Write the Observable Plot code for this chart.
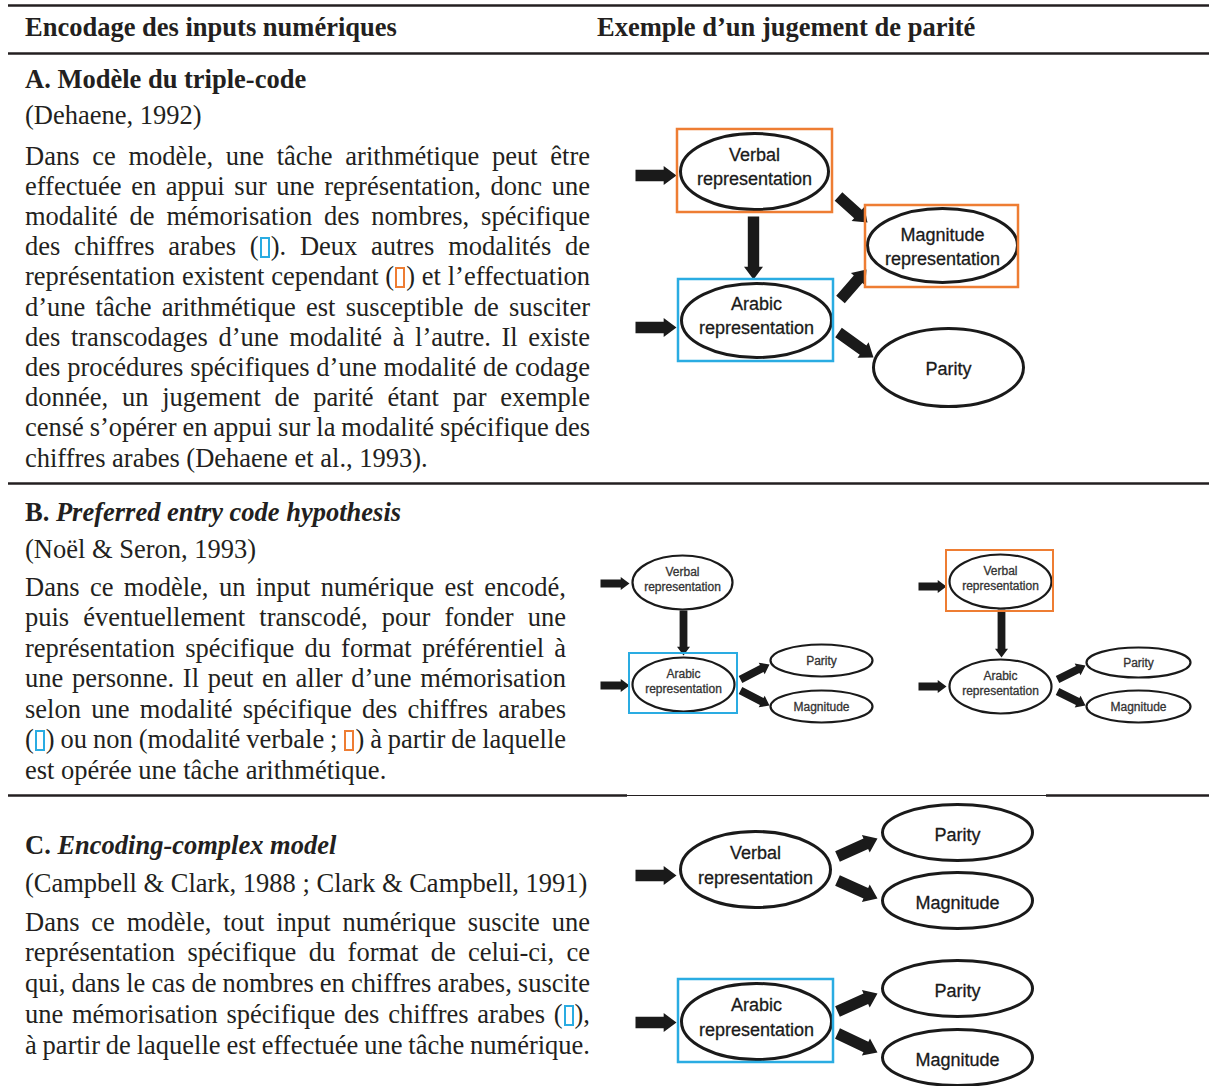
<!DOCTYPE html>
<html><head><meta charset="utf-8">
<script src="https://cdn.jsdelivr.net/npm/d3@7"></script>
<script src="https://cdn.jsdelivr.net/npm/@observablehq/plot@0.6"></script>
<style>
html,body{margin:0;padding:0;background:#fff;}
#page{position:relative;width:1209px;height:1086px;overflow:hidden;font-family:"Liberation Serif","Times New Roman",serif;color:#231f20;font-size:26.5px;}
#page svg{position:absolute;left:0;top:0;}
.ln{position:absolute;white-space:nowrap;line-height:30.5px;}
.sq{display:inline-block;width:6px;height:17px;border:2px solid;box-sizing:content-box;vertical-align:-3px;margin:0 1px;}
.sq.B{border-color:#2aace2;}
.sq.O{border-color:#ee7d33;}
</style>
</head><body>
<div id="page"></div>
<script>
// ---------- text content ----------
const headerLabels = ["Encodage des inputs numériques", "Exemple d’un jugement de parité"];
const sectionLetters = ["A.", "B.", "C."];
const sectionNames = ["Modèle du triple-code", "Preferred entry code hypothesis", "Encoding-complex model"];
const sectionItalic = [false, true, true];
const citations = ["(Dehaene, 1992)", "(Noël & Seron, 1993)", "(Campbell & Clark, 1988 ; Clark & Campbell, 1991)"];
const bodyA = [
  "Dans ce modèle, une tâche arithmétique peut être",
  "effectuée en appui sur une représentation, donc une",
  "modalité de mémorisation des nombres, spécifique",
  "des chiffres arabes ([B]). Deux autres modalités de",
  "représentation existent cependant ([O]) et l’effectuation",
  "d’une tâche arithmétique est susceptible de susciter",
  "des transcodages d’une modalité à l’autre. Il existe",
  "des procédures spécifiques d’une modalité de codage",
  "donnée, un jugement de parité étant par exemple",
  "censé s’opérer en appui sur la modalité spécifique des",
  "chiffres arabes (Dehaene et al., 1993)."
];
const bodyB = [
  "Dans ce modèle, un input numérique est encodé,",
  "puis éventuellement transcodé, pour fonder une",
  "représentation spécifique du format préférentiel à",
  "une personne. Il peut en aller d’une mémorisation",
  "selon une modalité spécifique des chiffres arabes",
  "([B]) ou non (modalité verbale ; [O]) à partir de laquelle",
  "est opérée une tâche arithmétique."
];
const bodyC = [
  "Dans ce modèle, tout input numérique suscite une",
  "représentation spécifique du format de celui-ci, ce",
  "qui, dans le cas de nombres en chiffres arabes, suscite",
  "une mémorisation spécifique des chiffres arabes ([B]),",
  "à partir de laquelle est effectuée une tâche numérique."
];

// ---------- diagram content (node centres / radii in page pixels) ----------
const nodesA = [
  {label: "Verbal\nrepresentation", entry: true, x: 754, y: 171, rx: 74, ry: 38},
  {label: "Magnitude\nrepresentation", entry: false, x: 942, y: 245, rx: 75, ry: 37},
  {label: "Arabic\nrepresentation", entry: true, x: 756, y: 320, rx: 75, ry: 37},
  {label: "Parity", entry: false, x: 948, y: 367, rx: 75, ry: 39}
];
const nodesB = [
  {label: "Verbal\nrepresentation", entry: true, x: 682, y: 582, rx: 50, ry: 27},
  {label: "Arabic\nrepresentation", entry: true, x: 683, y: 684, rx: 51, ry: 27},
  {label: "Parity", entry: false, x: 821, y: 660, rx: 51, ry: 16},
  {label: "Magnitude", entry: false, x: 821, y: 706, rx: 51, ry: 16},
  {label: "Verbal\nrepresentation", entry: true, x: 1000, y: 581, rx: 51, ry: 27},
  {label: "Arabic\nrepresentation", entry: true, x: 1000, y: 686, rx: 51, ry: 27},
  {label: "Parity", entry: false, x: 1138, y: 662, rx: 52, ry: 15},
  {label: "Magnitude", entry: false, x: 1138, y: 706, rx: 52, ry: 16}
];
const nodesC = [
  {label: "Verbal\nrepresentation", entry: true, x: 755, y: 869, rx: 75, ry: 38},
  {label: "Parity", entry: false, x: 957, y: 832, rx: 75, ry: 28},
  {label: "Magnitude", entry: false, x: 957, y: 900, rx: 75, ry: 28},
  {label: "Arabic\nrepresentation", entry: true, x: 756, y: 1021, rx: 75, ry: 38},
  {label: "Parity", entry: false, x: 957, y: 988, rx: 75, ry: 28},
  {label: "Magnitude", entry: false, x: 957, y: 1057, rx: 75, ry: 28}
];
// arrows: tail (x1,y1) -> tip (x2,y2)
const arrowsA = [
  {x1: 635, y1: 175, x2: 676, y2: 175},
  {x1: 635, y1: 327, x2: 676, y2: 327},
  {x1: 753, y1: 216, x2: 753, y2: 279},
  {x1: 838, y1: 196, x2: 867, y2: 222},
  {x1: 840, y1: 299, x2: 866, y2: 269},
  {x1: 838, y1: 332, x2: 873, y2: 357}
];
const arrowsB = [
  {x1: 600, y1: 583, x2: 629, y2: 583},
  {x1: 600, y1: 685, x2: 629, y2: 685},
  {x1: 683, y1: 610, x2: 683, y2: 655},
  {x1: 740, y1: 679, x2: 769, y2: 664},
  {x1: 740, y1: 690, x2: 769, y2: 705},
  {x1: 918, y1: 586, x2: 946, y2: 586},
  {x1: 918, y1: 686, x2: 946, y2: 686},
  {x1: 1001, y1: 609, x2: 1001, y2: 657},
  {x1: 1057, y1: 679, x2: 1085, y2: 665},
  {x1: 1057, y1: 691, x2: 1085, y2: 705}
];
const arrowsC = [
  {x1: 635, y1: 875, x2: 676, y2: 875},
  {x1: 837, y1: 856, x2: 877, y2: 838},
  {x1: 837, y1: 880, x2: 877, y2: 898},
  {x1: 635, y1: 1022, x2: 676, y2: 1022},
  {x1: 837, y1: 1011, x2: 877, y2: 993},
  {x1: 837, y1: 1033, x2: 877, y2: 1052}
];
// highlight boxes: kind = "arabe" (blue) or "autre" (orange)
const boxesBig = [
  {kind: "autre", x1: 677, y1: 129, x2: 832, y2: 212},
  {kind: "autre", x1: 865, y1: 205, x2: 1018, y2: 287},
  {kind: "arabe", x1: 678, y1: 279, x2: 833, y2: 361},
  {kind: "arabe", x1: 678, y1: 979, x2: 833, y2: 1062}
];
const boxesSmall = [
  {kind: "arabe", x1: 629, y1: 653, x2: 737, y2: 713},
  {kind: "autre", x1: 946, y1: 550, x2: 1053, y2: 611}
];
// table rules
const thickRules = [
  {y: 5, x1: 8, x2: 1209},
  {y: 53, x1: 8, x2: 1209},
  {y: 483, x1: 8, x2: 1209},
  {y: 795, x1: 8, x2: 627},
  {y: 795, x1: 1046, x2: 1209}
];
const thinRules = [{y: 795, x1: 627, x2: 1046}];

// ---------- drawing ----------
const W = 1209, H = 1086;
const INK = "#1a1a1a";
const BLUE = "#2aace2", ORANGE = "#ee7d33";
const SANS = "Liberation Sans, Arial, Helvetica, sans-serif";

const ellipseSymbol = k => ({
  draw(ctx, size) {
    const rx = Math.sqrt(size / Math.PI), ry = rx * k, c = 0.5523;
    ctx.moveTo(rx, 0);
    ctx.bezierCurveTo(rx, ry * c, rx * c, ry, 0, ry);
    ctx.bezierCurveTo(-rx * c, ry, -rx, ry * c, -rx, 0);
    ctx.bezierCurveTo(-rx, -ry * c, -rx * c, -ry, 0, -ry);
    ctx.bezierCurveTo(rx * c, -ry, rx, -ry * c, rx, 0);
    ctx.closePath();
  }
});
const blockArrow = {
  draw(ctx, l, r) {
    const w = r * 0.6, hl = Math.min(r * 1.35, l * 0.55);
    ctx.moveTo(-w, 0);
    ctx.lineTo(-w, -(l - hl));
    ctx.lineTo(-r, -(l - hl));
    ctx.lineTo(0, -l);
    ctx.lineTo(r, -(l - hl));
    ctx.lineTo(w, -(l - hl));
    ctx.lineTo(w, 0);
    ctx.closePath();
  }
};

const arrowMarks = (arrows, size) => arrows.map(a => Plot.vector([a], {
  x: "x1", y: "y1",
  length: Math.hypot(a.x2 - a.x1, a.y2 - a.y1),
  rotate: Math.atan2(a.x2 - a.x1, -(a.y2 - a.y1)) * 180 / Math.PI,
  anchor: "start", shape: blockArrow, r: size,
  fill: INK, stroke: "none"
}));
const ellipseMarks = (nodes, sw) => nodes.map(n => Plot.dot([n], {
  x: "x", y: "y", r: n.rx, symbol: ellipseSymbol(n.ry / n.rx),
  fill: "white", stroke: INK, strokeWidth: sw
}));
const labelMarks = (nodes, fs, lh, dyEntry, fill) => [
  Plot.text(nodes, {filter: d => d.entry, x: "x", y: "y", text: "label", dy: dyEntry,
    fontSize: fs, lineHeight: lh, fontFamily: SANS, fill, stroke: fill, strokeWidth: 0.3}),
  Plot.text(nodes, {filter: d => !d.entry, x: "x", y: "y", text: "label",
    fontSize: fs, lineHeight: lh, fontFamily: SANS, fill, stroke: fill, strokeWidth: 0.3})
];

const chart = Plot.plot({
  width: W, height: H, margin: 0,
  x: {domain: [0, W], range: [0, W], axis: null},
  y: {domain: [0, H], range: [0, H], axis: null},
  color: {domain: ["arabe", "autre"], range: [BLUE, ORANGE]},
  style: {background: "transparent", overflow: "visible"},
  marks: [
    Plot.ruleY(thickRules, {y: "y", x1: "x1", x2: "x2", stroke: "#231f20", strokeWidth: 2.5}),
    Plot.ruleY(thinRules, {y: "y", x1: "x1", x2: "x2", stroke: "#231f20", strokeWidth: 1}),
    ...arrowMarks(arrowsA, 9.5),
    ...arrowMarks(arrowsB, 6.5),
    ...arrowMarks(arrowsC, 9.5),
    ...ellipseMarks(nodesA, 3),
    ...ellipseMarks(nodesB, 2.2),
    ...ellipseMarks(nodesC, 3),
    ...labelMarks(nodesA, 18, 1.3, -6, INK),
    ...labelMarks(nodesB, 12, 1.25, -4, "#333"),
    ...labelMarks(nodesC, 18, 1.4, -6, INK),
    Plot.rect(boxesBig, {x1: "x1", y1: "y1", x2: "x2", y2: "y2", stroke: "kind", fill: "none", strokeWidth: 2.5}),
    Plot.rect(boxesSmall, {x1: "x1", y1: "y1", x2: "x2", y2: "y2", stroke: "kind", fill: "none", strokeWidth: 2})
  ]
});
const page = document.getElementById("page");
page.appendChild(chart);

// ---------- HTML text ----------
const OFF = 15.4; // centre of cap band relative to line box top
const fmt = s => s.replace(/\[B\]/g, '<span class="sq B"></span>').replace(/\[O\]/g, '<span class="sq O"></span>');
function addLine(html, left, centre, extraStyle) {
  const d = document.createElement("div");
  d.className = "ln";
  d.style.left = left + "px";
  d.style.top = (centre - OFF) + "px";
  if (extraStyle) d.style.cssText += extraStyle;
  d.innerHTML = html;
  page.appendChild(d);
  return d;
}
function addBody(lines, left, width, c0, step, justifyLast) {
  lines.forEach((t, i) => {
    const d = addLine(fmt(t), left, c0 + i * step);
    const last = i === lines.length - 1;
    if (!last || justifyLast) {
      const nat = d.getBoundingClientRect().width;
      const spaces = (t.match(/ /g) || []).length;
      if (spaces) d.style.wordSpacing = ((width - nat) / spaces) + "px";
    }
  });
}
addLine("<b>" + headerLabels[0] + "</b>", 25, 27);
addLine("<b>" + headerLabels[1] + "</b>", 597, 27);

const layout = [
  {title: 79, cite: 115, body: 156, step: 30.2, width: 565, lines: bodyA, jl: false},
  {title: 512, cite: 549, body: 587, step: 30.5, width: 541, lines: bodyB, jl: false},
  {title: 845, cite: 883, body: 922, step: 30.75, width: 565, lines: bodyC, jl: true}
];
layout.forEach((L, i) => {
  const name = sectionItalic[i] ? "<i>" + sectionNames[i] + "</i>" : sectionNames[i];
  addLine("<b>" + sectionLetters[i] + " " + name + "</b>", 25, L.title);
  addLine(citations[i].replace(/&/g, "&amp;"), 25, L.cite);
  addBody(L.lines, 25, L.width, L.body, L.step, L.jl);
});
</script>
</body></html>
